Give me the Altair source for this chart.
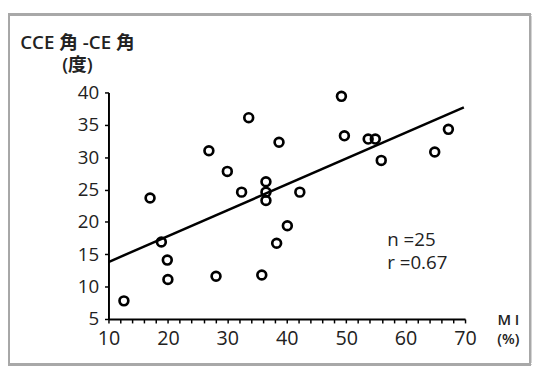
import altair as alt
import pandas as pd

# Data
mi_pct = [12.6, 17.0, 18.9, 19.9, 20.0, 26.9, 28.1, 30.0, 32.4, 33.6, 35.8, 36.5, 36.5, 36.5,
          38.3, 38.7, 40.1, 42.2, 49.2, 49.7, 53.7, 54.9, 55.9, 64.9, 67.2]
angle_diff = [7.8, 23.7, 16.9, 14.1, 11.1, 31.0, 11.6, 27.8, 24.6, 36.1, 11.8, 26.2, 24.6, 23.3,
              16.7, 32.3, 19.4, 24.6, 39.4, 33.3, 32.8, 32.8, 29.5, 30.8, 34.3]
fit_x = [10.0, 69.8]
fit_y = [13.8, 37.7]
n_value = 25
r_value = 0.67
x_ticks = list(range(10, 71, 2))
y_ticks = [5, 10, 15, 20, 25, 30, 35, 40]
y_title = ["CCE 角 -CE 角", "(度)"]
x_title = ["M I", "(%)"]

FONT = "Open Sans, Noto Sans CJK JP, sans-serif"

pts = pd.DataFrame({"mi": mi_pct, "ang": angle_diff})
fit = pd.DataFrame({"mi": fit_x, "ang": fit_y})
stats = pd.DataFrame({"txt": [f"n ={n_value}", f"r ={r_value}"], "row": [0, 1]})
xt = pd.DataFrame({"txt": x_title, "row": [0, 1]})

xscale = alt.Scale(domain=[10, 70], nice=False, zero=False)
yscale = alt.Scale(domain=[5, 40], nice=False, zero=False)

xaxis = alt.Axis(values=x_ticks, labelExpr="datum.value % 10 == 0 ? datum.label : ''",
                 title=None, labelPadding=6,
                 labelFontSize=20, labelFlush=False, labelOverlap=False)
yaxis = alt.Axis(values=y_ticks, title=y_title, titleAngle=0, titleX=-32, titleY=-45,
                 titleAlign="center", titleBaseline="alphabetic", titleFontSize=19,
                 titleFontWeight=600, titleLineHeight=23, titleColor="#222",
                 labelPadding=6, labelFontSize=19, labelOverlap=False)

frame = alt.Chart(pts).mark_rect(fill=None, stroke="#a8a8a8", strokeWidth=2).encode(
    x=alt.value(-101.5), x2=alt.value(428), y=alt.value(-79), y2=alt.value(276)
)

points = alt.Chart(pts).mark_point(shape="circle", filled=False, color="black",
                                   size=80, strokeWidth=2.7, opacity=1).encode(
    x=alt.X("mi:Q", scale=xscale, axis=xaxis),
    y=alt.Y("ang:Q", scale=yscale, axis=yaxis),
)

line = alt.Chart(fit).mark_line(color="black", strokeWidth=2.5).encode(
    x=alt.X("mi:Q", scale=xscale, axis=xaxis),
    y=alt.Y("ang:Q", scale=yscale, axis=yaxis),
)

stat_n = alt.Chart(stats).transform_filter("datum.row == 0").mark_text(
    align="left", baseline="middle", fontSize=19, font=FONT, color="#222").encode(
    text="txt:N", x=alt.value(283), y=alt.value(150))
stat_r = alt.Chart(stats).transform_filter("datum.row == 1").mark_text(
    align="left", baseline="middle", fontSize=19, font=FONT, color="#222").encode(
    text="txt:N", x=alt.value(283), y=alt.value(173))

xt_1 = alt.Chart(xt).transform_filter("datum.row == 0").mark_text(
    align="center", baseline="middle", fontSize=15, fontWeight=600, font=FONT,
    color="#222").encode(text="txt:N", x=alt.value(406), y=alt.value(231))
xt_2 = alt.Chart(xt).transform_filter("datum.row == 1").mark_text(
    align="center", baseline="middle", fontSize=15, fontWeight=600, font=FONT,
    color="#222").encode(text="txt:N", x=alt.value(406), y=alt.value(250))

chart = alt.layer(frame, line, points, stat_n, stat_r, xt_1, xt_2).properties(
    width=362, height=230,
    padding={"left": 102, "top": 83, "right": 69, "bottom": 46},
    autosize=alt.AutoSizeParams(type="none"),
    background="white",
).configure_view(stroke=None).configure_axis(
    grid=False, domainColor="black", domainWidth=2, tickColor="black", tickWidth=1.5,
    tickSize=4, labelColor="#222", labelFont=FONT, titleFont=FONT,
)

chart.save("out.html", embed_options={"renderer": "svg", "actions": False})
